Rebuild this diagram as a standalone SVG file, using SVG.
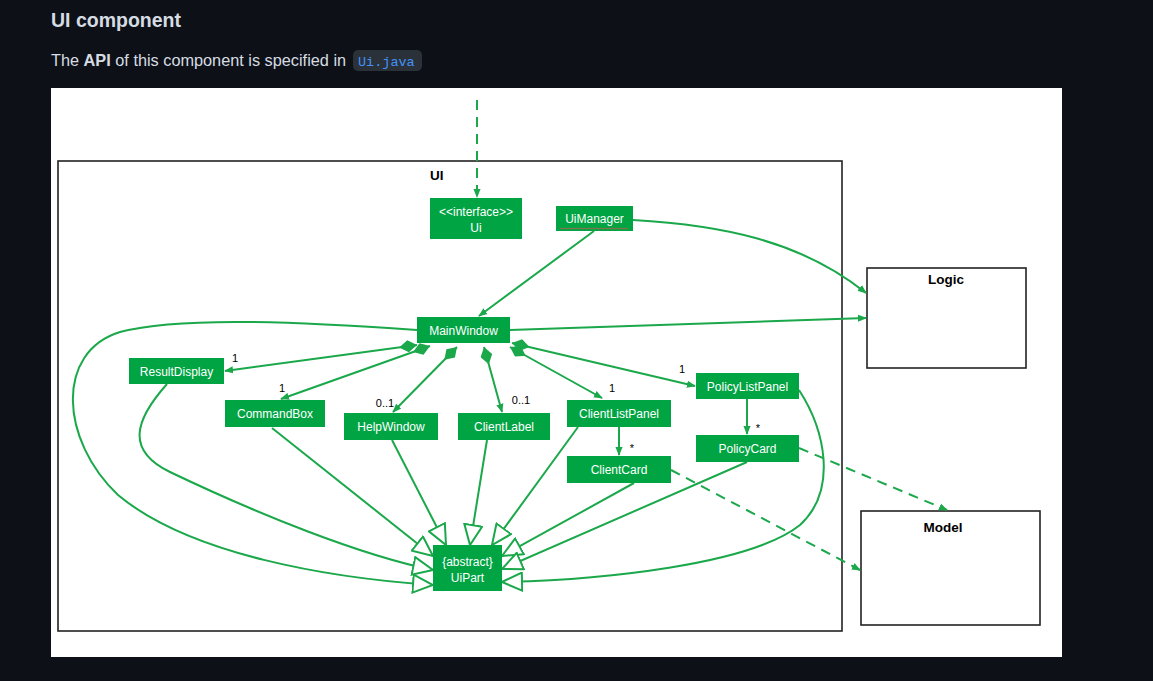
<svg xmlns="http://www.w3.org/2000/svg" width="1153" height="681" viewBox="0 0 1153 681">
<style>
.node rect{fill:#00a443}
.node text{fill:#ffffff;font-family:"Liberation Sans",Arial,sans-serif;font-size:12px;text-anchor:middle}
.edge{fill:none;stroke:#1aa84a;stroke-width:2}
.dash{stroke-dasharray:10 7}
.pkg rect{fill:#ffffff;stroke:#222;stroke-width:1.6}
.pkg text{fill:#000;font-family:"Liberation Sans",Arial,sans-serif;font-size:13.5px;font-weight:bold}
.mult{fill:#000;font-family:"Liberation Sans",Arial,sans-serif;font-size:11px;text-anchor:middle}
</style>
<defs>
<marker id="arr" viewBox="0 0 10 8" refX="9" refY="4" markerWidth="9" markerHeight="8" markerUnits="userSpaceOnUse" orient="auto">
<path d="M0,0 L10,4 L0,8 z" fill="#1aa84a"/>
</marker>
<marker id="tri" viewBox="0 0 22 20" refX="21" refY="10" markerWidth="22" markerHeight="20" markerUnits="userSpaceOnUse" orient="auto">
<path d="M1,1 L21,10 L1,19 z" fill="#ffffff" stroke="#1aa84a" stroke-width="2"/>
</marker>
<marker id="dia" viewBox="0 0 18 12" refX="0" refY="6" markerWidth="18" markerHeight="12" markerUnits="userSpaceOnUse" orient="auto">
<path d="M0,6 L9,0 L18,6 L9,12 z" fill="#1aa84a"/>
</marker>
</defs>
<rect x="0" y="0" width="1153" height="681" fill="#0d1117"/>
<text x="51" y="27" font-family="Liberation Sans,Arial,sans-serif" font-size="19.5" font-weight="bold" fill="#d6dce3">UI component</text>
<text x="51" y="66" font-family="Liberation Sans,Arial,sans-serif" font-size="16.3" fill="#d6dce3">The <tspan font-weight="bold">API</tspan> of this component is specified in</text>
<rect x="353" y="50" width="69" height="21" rx="5" fill="#2b3139"/>
<text x="358" y="65.5" font-family="Liberation Mono,monospace" font-size="13.5" fill="#4493f8">Ui.java</text>
<rect x="51" y="88" width="1011" height="569" fill="#ffffff"/>

<g id="pkg-ui" class="pkg"><rect x="58" y="161" width="784" height="470"/><text x="430" y="180">UI</text></g>
<g id="pkg-logic" class="pkg"><rect x="867" y="268" width="159" height="100"/><text x="946" y="284" text-anchor="middle">Logic</text></g>
<g id="pkg-model" class="pkg"><rect x="861" y="511" width="179" height="114"/><text x="943" y="532" text-anchor="middle">Model</text></g>

<g id="connectors">
<path class="edge dash" d="M477,100 L477,197" marker-end="url(#arr)"/>
<path class="edge" d="M594,231 L479,316" marker-end="url(#arr)"/>
<path class="edge" d="M633,220 C720,225 800,240 866,293" marker-end="url(#arr)"/>
<path class="edge" d="M510,330 L866,318" marker-end="url(#arr)"/>
<path class="edge" d="M417,345 L225,371" marker-start="url(#dia)" marker-end="url(#arr)"/>
<path class="edge" d="M430,346 L281,399" marker-start="url(#dia)" marker-end="url(#arr)"/>
<path class="edge" d="M457,347 L393,412" marker-start="url(#dia)" marker-end="url(#arr)"/>
<path class="edge" d="M484,347 L502,412" marker-start="url(#dia)" marker-end="url(#arr)"/>
<path class="edge" d="M510,347 L602,398" marker-start="url(#dia)" marker-end="url(#arr)"/>
<path class="edge" d="M512,343 L695,386" marker-start="url(#dia)" marker-end="url(#arr)"/>
<path class="edge" d="M619,427 L619,455" marker-end="url(#arr)"/>
<path class="edge" d="M747,399 L747,434" marker-end="url(#arr)"/>
<path class="edge" d="M417,330 C300,322 180,316 120,332 C55,352 60,440 118,495 C190,555 330,578 433,585" marker-end="url(#tri)"/>
<path class="edge" d="M167,384 C135,420 125,450 170,472 C260,515 360,555 433,570" marker-end="url(#tri)"/>
<path class="edge" d="M272,428 L433,556" marker-end="url(#tri)"/>
<path class="edge" d="M392,440 L446,545" marker-end="url(#tri)"/>
<path class="edge" d="M487,440 L470,545" marker-end="url(#tri)"/>
<path class="edge" d="M578,427 L492,545" marker-end="url(#tri)"/>
<path class="edge" d="M634,483 L502,556" marker-end="url(#tri)"/>
<path class="edge" d="M747,462 L502,569" marker-end="url(#tri)"/>
<path class="edge" d="M799,390 C825,430 838,490 800,525 C750,565 600,580 502,582" marker-end="url(#tri)"/>
<path class="edge dash" d="M671,470 L860,570" marker-end="url(#arr)"/>
<path class="edge dash" d="M799,448 L947,510" marker-end="url(#arr)"/>
</g>

<g id="n-ui" class="node"><rect x="430" y="198" width="92" height="41"/><text x="476" y="216">&lt;&lt;interface&gt;&gt;</text><text x="476" y="232">Ui</text></g>
<g id="n-uimanager" class="node"><rect x="556" y="206" width="77" height="25"/><text x="594.5" y="223">UiManager</text><path d="M560,228.5 q1,-1.2 2,0 t2,0 t2,0 t2,0 t2,0 t2,0 t2,0 t2,0 t2,0 t2,0 t2,0 t2,0 t2,0 t2,0 t2,0 t2,0 t2,0 t2,0 t2,0 t2,0 t2,0 t2,0 t2,0 t2,0 t2,0 t2,0 t2,0 t2,0 t2,0 t2,0 t2,0 t2,0 t2,0 t2,0" fill="none" stroke="#d9534f" stroke-width="0.8"/></g>
<g id="n-mainwindow" class="node"><rect x="417" y="317" width="93" height="26"/><text x="463.5" y="334.5">MainWindow</text></g>
<g id="n-resultdisplay" class="node"><rect x="129" y="358" width="95" height="26"/><text x="176.5" y="375.5">ResultDisplay</text></g>
<g id="n-commandbox" class="node"><rect x="225" y="400" width="100" height="27"/><text x="275" y="418">CommandBox</text></g>
<g id="n-helpwindow" class="node"><rect x="344" y="413" width="94" height="27"/><text x="391" y="431">HelpWindow</text></g>
<g id="n-clientlabel" class="node"><rect x="458" y="413" width="92" height="27"/><text x="504" y="431">ClientLabel</text></g>
<g id="n-clientlistpanel" class="node"><rect x="567" y="400" width="104" height="27"/><text x="619" y="418">ClientListPanel</text></g>
<g id="n-clientcard" class="node"><rect x="567" y="456" width="104" height="27"/><text x="619" y="474">ClientCard</text></g>
<g id="n-policylistpanel" class="node"><rect x="696" y="373" width="103" height="26"/><text x="747.5" y="390.5">PolicyListPanel</text></g>
<g id="n-policycard" class="node"><rect x="696" y="435" width="103" height="27"/><text x="747.5" y="453">PolicyCard</text></g>
<g id="n-uipart" class="node"><rect x="433" y="545" width="69" height="46"/><text x="467.5" y="566">{abstract}</text><text x="467.5" y="582">UiPart</text></g>

<g id="labels">
<text class="mult" x="235" y="362">1</text>
<text class="mult" x="282" y="392">1</text>
<text class="mult" x="385" y="407">0..1</text>
<text class="mult" x="521" y="404">0..1</text>
<text class="mult" x="612" y="392">1</text>
<text class="mult" x="682" y="373">1</text>
<text class="mult" x="632" y="452">*</text>
<text class="mult" x="758" y="432">*</text>
</g>
</svg>
